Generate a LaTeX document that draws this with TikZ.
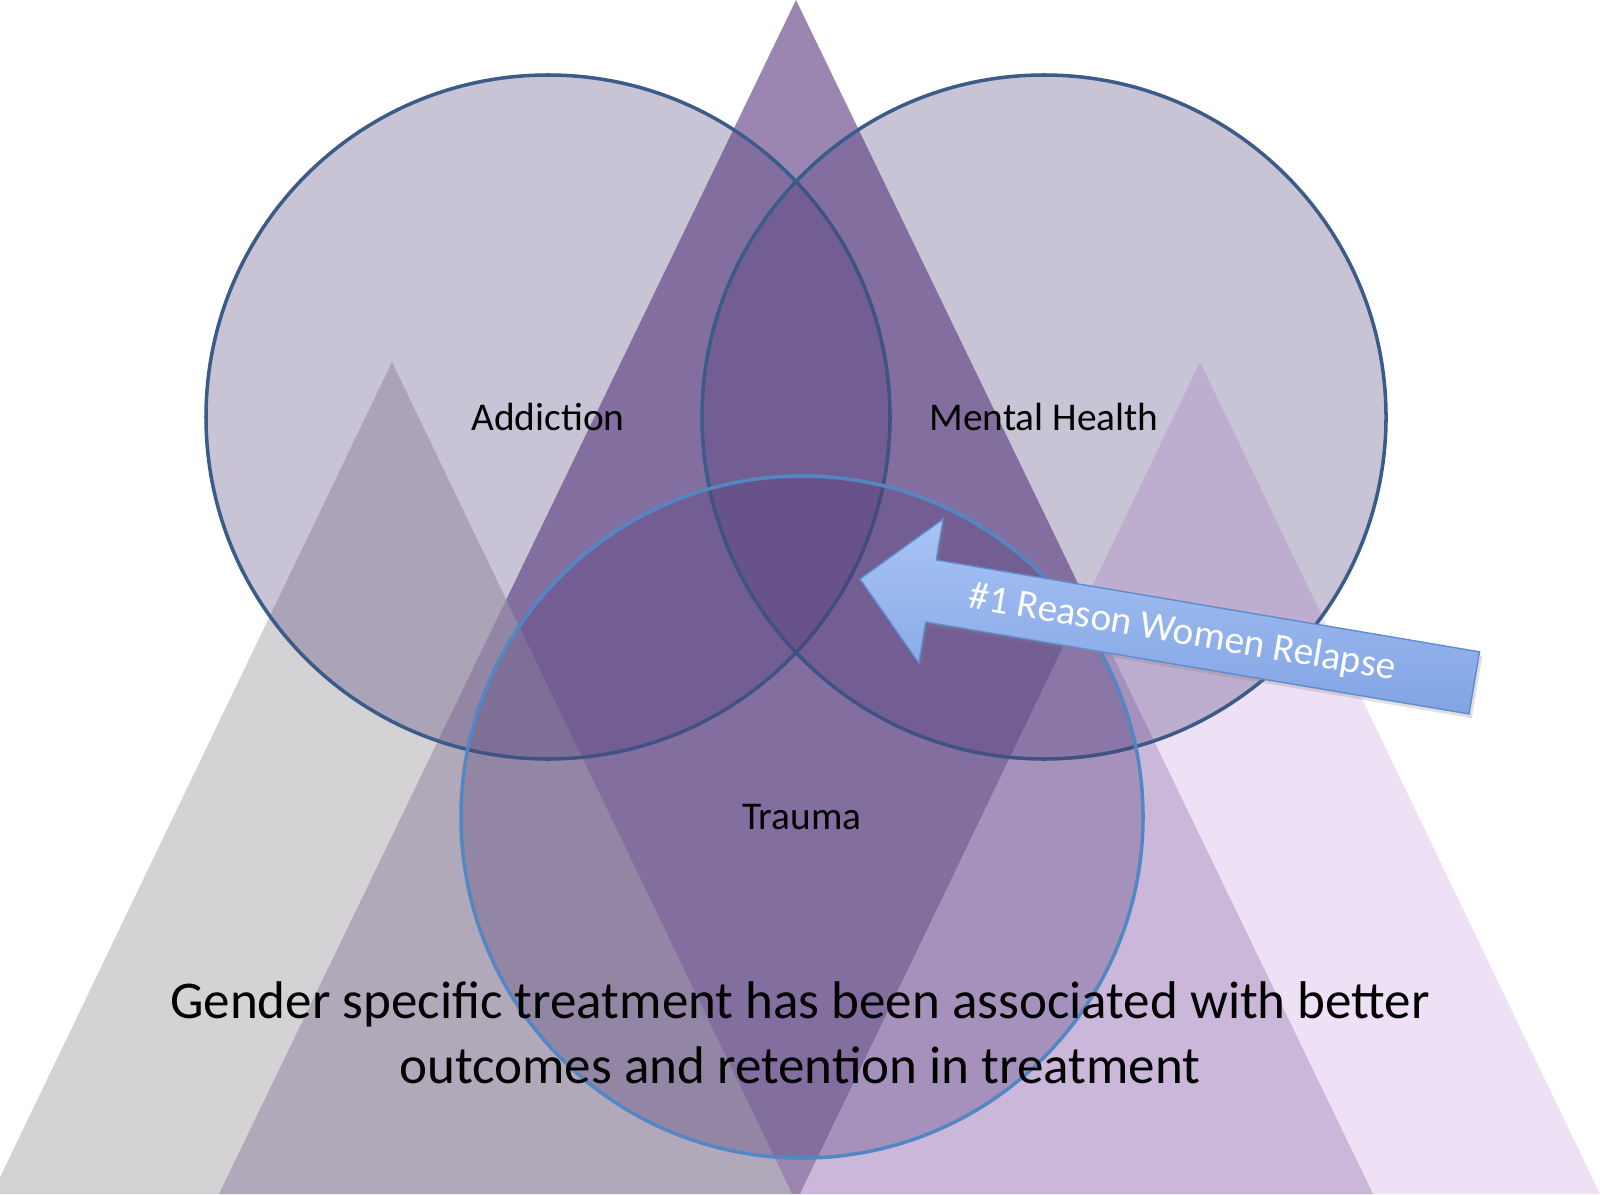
\documentclass[tikz,border=0pt]{standalone}
\usepackage{fontspec}
\setmainfont{Carlito}
\usepackage{tikz}
\usetikzlibrary{shadows}
\definecolor{peak}{RGB}{154,134,177}
\definecolor{greypeak}{RGB}{190,187,190}
\definecolor{lilacpeak}{RGB}{230,210,240}
\definecolor{vennfill}{RGB}{78,58,120}
\definecolor{vennline}{RGB}{59,91,136}
\definecolor{traumaline}{RGB}{84,134,196}
\definecolor{arrowtop}{RGB}{168,196,244}
\definecolor{arrowbot}{RGB}{130,164,228}
\definecolor{arrowline}{RGB}{96,139,206}

\begin{document}
\begin{tikzpicture}

\tikzset{venn/.style={shape=circle,minimum size=6.84cm,inner sep=0pt,fill=vennfill,fill opacity=.3,text opacity=1,draw=vennline,line width=1pt,font=\fontsize{11.2}{13.4}\selectfont},
bigtext/.style={font=\fontsize{15.1}{18.3}\selectfont,anchor=base,inner sep=0pt}}

% Frame
\useasboundingbox (0,0) rectangle (16,11.94);
\clip (0,0) rectangle (16,11.94);
\fill[white] (0,0) rectangle (16,11.94);

% Mountains
\fill[peak] (7.96,11.94) -- (2.19,0) -- (13.73,0) -- cycle;
\fill[greypeak,fill opacity=.65] (3.92,8.32) -- (-0.08,0) -- (7.92,0) -- cycle;
\fill[lilacpeak,fill opacity=.65] (12.0,8.32) -- (8.0,0) -- (16.0,0) -- cycle;

% Venn circles
\node (addiction) [venn] at (5.48,7.77) {Addiction};
\node (mental) [venn] at (10.44,7.77) {Mental Health};
\node (trauma) [venn,draw=traumaline,minimum size=6.82cm] at (8.02,3.77) {Trauma};

% Arrow
\begin{scope}[shift={(8.60,6.15)},rotate=-9.6]
\draw[draw=arrowline,line width=0.4pt,top color=arrowtop,bottom color=arrowbot,drop shadow={opacity=.25,shadow xshift=0.8pt,shadow yshift=-1.2pt}]
 (0,0) -- (0.72,0.73) -- (0.72,0.315) -- (6.23,0.315) -- (6.23,-0.315) -- (0.72,-0.315) -- (0.72,-0.73) -- cycle;
\node (reason) [rotate=-9.6,text=white,font=\fontsize{11.2}{13.4}\selectfont] at (3.27,0) {\#1 Reason Women Relapse};
\end{scope}

% Caption
\node (gsLineA) [bigtext] at (8.0,1.76) {Gender specific treatment has been associated with better};
\node (gsLineB) [bigtext] at (8.0,1.11) {outcomes and retention in treatment};

\end{tikzpicture}
\end{document}
